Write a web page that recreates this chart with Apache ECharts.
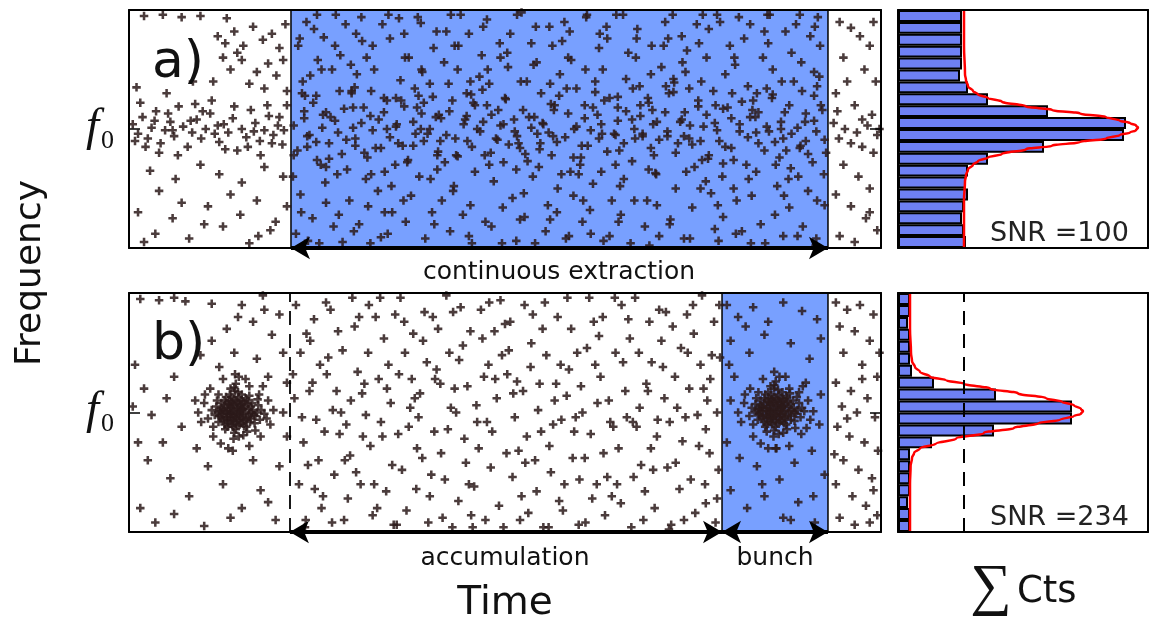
<!DOCTYPE html>
<html>
<head>
<meta charset="utf-8">
<script src="https://cdn.jsdelivr.net/npm/echarts@6/dist/echarts.min.js"></script>
<style>
  html, body { margin: 0; padding: 0; background: #fff; }
  #chart { width: 1165px; height: 622px; }
</style>
</head>
<body>
<div id="chart"></div>
<script>
// Time runs 0..1000 (arbitrary units), frequency 0..200 with f0 at 100.
const F0 = 100;
const extractStart = 215.4, extractEnd = 929.5;   // continuous extraction window
const accumStart = 214, bunchStart = 788.6, bunchEnd = 929.5;
const noiseLevel = 33;                              // per-bin background of panel a)

// ---- panel a): detected ions, [time, frequency] ----
const topLeftPts = [
  [20,195],[45,196],[70,194],[95,195],[130,193],
  [118,178],[140,182],[152,170],[165,186],[178,175],[190,180],[200,168],[208,188],[125,160],[135,150],[150,158],[170,148],[185,155],[196,145],[205,158],[112,140],[160,138],[180,134],[210,132],[128,172],[144,164],
  [5,104],[12,96],[18,110],[25,92],[30,101],[36,115],[42,88],[48,99],[55,106],[60,94],[66,119],[72,102],[78,85],[84,97],[90,108],[96,92],[102,100],[108,113],[114,96],[120,89],[126,104],[132,97],[138,109],[144,82],[150,100],[156,93],[162,116],[168,105],[174,90],[180,99],[186,111],[192,95],[198,103],[204,87],[210,120],[15,122],[40,80],[65,78],[88,121],[110,124],[140,119],[175,78],[200,110],[22,85],[52,113],[82,107],[118,103],[158,85],[190,88],[8,90],[34,107],[58,99],[98,115],[128,83],[166,98],[184,120],[206,99],
  [10,135],[50,130],[85,140],[28,65],[62,58],[95,70],[120,62],[150,55],[180,68],[205,60],[40,48],[135,45],[170,40],
  [12,30],[35,12],[58,25],[80,8],[105,35],[125,18],[148,28],[172,10],[195,22],[210,35],[20,5],[70,38],[160,4],[188,15],[100,20]
];
const topExtractPts = [
  [222,12],[228,45],[219,78],[231,140],[225,170],[236,190],[218,60],[233,115],
  [244,25],[240,95],[251,158],[246,184],[238,6],[255,70],[249,128],[241,145],
  [262,38],[270,150],[266,88],[259,177],[272,18],[268,110],[275,196],[261,55],
  [284,5],[290,66],[296,132],[281,162],[293,40],[288,188],[298,101],[283,79],
  [306,20],[312,118],[303,146],[315,58],[310,174],[301,92],[318,35],[309,194],
  [328,84],[335,9],[324,170],[339,126],[331,48],[326,150],[337,188],[322,62],
  [350,30],[356,104],[347,176],[361,141],[354,70],[344,12],[359,193],[349,52],
  [372,160],[378,86],[368,22],[383,118],[375,44],[366,180],[380,134],[371,74],
  [394,8],[401,58],[390,148],[405,168],[397,96],[388,189],[403,30],[392,122],
  [416,40],[422,182],[412,112],[427,14],[419,156],[410,66],[425,138],[414,90],
  [438,170],[444,28],[435,78],[449,130],[441,196],[432,52],[447,108],[437,150],
  [460,64],[466,144],[456,4],[471,186],[463,100],[454,36],[469,162],[458,122],
  [482,18],[488,92],[479,138],[493,172],[485,56],[476,192],[491,116],[481,80],
  [504,152],[510,42],[500,126],[515,6],[507,180],[498,72],[513,98],[503,164],
  [526,26],[532,110],[522,198],[537,60],[529,140],[520,84],[535,172],[525,46],
  [548,130],[554,14],[545,68],[559,186],[551,104],[542,156],[557,36],[547,88],
  [570,50],[576,174],[566,120],[581,8],[573,146],[564,94],[579,190],[569,30],
  [592,100],[598,62],[588,158],[603,22],[595,134],[586,182],[601,76],[591,44],
  [614,12],[620,140],[610,86],[625,168],[617,54],[608,194],[623,112],[613,32],
  [636,176],[642,40],[632,124],[647,70],[639,10],[630,150],[645,96],[635,186],
  [658,58],[664,164],[654,28],[669,108],[661,142],[652,82],[667,4],[657,196],
  [680,120],[686,18],[676,184],[691,66],[683,94],[674,160],[689,40],[679,136],
  [702,36],[708,152],[698,78],[713,190],[705,10],[696,116],[711,170],[701,62],
  [724,142],[730,88],[720,24],[735,178],[727,50],[718,130],[733,106],[723,196],
  [746,8],[752,68],[742,166],[757,124],[749,34],[740,148],[755,188],[745,92],
  [768,160],[774,46],[764,102],[779,16],[771,184],[762,74],[777,132],[767,56],
  [790,26],[796,118],[786,190],[801,84],[793,146],[784,6],[799,170],[789,60],
  [812,98],[818,176],[808,40],[823,136],[815,14],[806,154],[821,70],[811,194],
  [834,64],[840,20],[830,124],[845,182],[837,88],[828,44],[843,160],[833,110],
  [856,150],[862,52],[852,196],[867,100],[859,28],[850,172],[865,76],[855,126],
  [878,34],[884,140],[874,82],[889,10],[881,164],[872,114],[887,188],[877,58],
  [900,90],[906,178],[896,18],[911,128],[903,48],[894,156],[909,72],[899,106],
  [920,120],[925,36],[916,194],[927,80],[918,144],[914,8],[924,62],[919,170],
  [229,30],[234,128],[227,176],[237,85],[253,4],[258,112],[250,196],[256,150],
  [277,62],[280,132],[274,170],[279,28],[299,14],[295,154],[302,180],[298,118],
  [321,4],[317,76],[322,132],[316,160],[343,100],[340,30],[345,196],[339,114],
  [365,40],[362,124],[367,160],[364,86],[384,194],[388,100],[386,60],[389,150],
  [406,20],[410,78],[408,110],[409,182],[430,124],[428,196],[431,48],[433,170],
  [452,10],[450,90],[454,140],[452,180],[474,22],[476,120],[473,78],[477,150],
  [497,34],[494,160],[498,104],[496,4],[518,88],[520,24],[516,196],[521,140],
  [540,4],[538,154],[543,96],[541,186],[563,170],[560,24],[565,116],[562,78],
  [585,10],[582,134],[587,64],[584,160],[606,120],[604,40],[609,196],[607,150],
  [629,96],[626,180],[631,6],[628,64],[650,118],[648,196],[653,52],[651,22],
  [672,40],[670,134],[675,176],[673,92],[694,146],[692,2],[697,104],[695,170],
  [716,94],[714,136],[719,20],[717,176],[738,8],[736,156],[741,64],[739,114],
  [760,50],[758,172],[763,196],[761,140],[782,196],[780,120],[785,90],[783,36],
  [804,50],[802,130],[807,12],[805,160],[826,188],[824,58],[829,116],[827,4],
  [848,134],[846,4],[851,98],[849,196],[870,10],[868,140],[873,182],[871,44],
  [892,196],[890,60],[895,132],[893,86],[913,2],[911,148],[915,40],[912,186]
];
const topBandPts = [
  [219,103],[224,82],[233,109],[237,94],[245,122],[249,89],[257,101],[262,114],[266,75],[274,107],[278,97],[286,117],[289,91],[296,130],[301,86],[309,105],[313,80],[321,111],[324,99],[332,108],[335,84],[343,124],[347,93],[355,102],[358,88],[366,119],[370,72],[378,106],[381,96],[389,113],[392,90],[400,100],[404,127],[411,81],[415,109],[422,95],[426,115],[434,92],[437,77],[445,104],[449,111],[456,85],[460,120],[467,98],[471,106],[479,70],[482,112],[490,91],[494,103],[501,125],[505,87],[512,108],[516,94],[524,116],[527,79],[535,101],[539,110],[546,83],[550,105],[558,97],[561,121],[569,89],[572,128],[580,93],[584,113],[591,76],[595,102],[602,86],[606,109],[614,99],[617,118],[625,92],[628,104],[636,81],[639,126],[647,95],[650,107],[658,88],[661,115],[669,73],[672,100],[680,111],[683,96],[691,122],[694,84],[702,106],[705,91],[713,114],[716,98],[724,131],[727,80],[735,108],[738,94],[746,103],[749,87],[757,119],[760,90],[768,112],[771,78],[779,105],[782,99],[790,117],[793,85],[801,109],[804,74],[812,104],[815,123],[823,93],[826,110],[834,97],[837,114],[845,82],[848,102],[856,129],[859,89],[867,106],[870,92],[878,120],[881,96],[889,101],[892,84],[900,113],[903,79],[911,107],[914,98],[922,116],[925,91],
  [230,130],[262,68],[300,135],[340,64],[385,128],[420,72],[470,133],[515,66],[560,138],[600,70],[650,127],[700,63],[745,134],[790,71],[835,130],[880,67],[915,136],[250,74],[355,126],[455,129],[530,73],[620,131],[690,126],[770,75],[860,70],[400,138],[575,62],[725,139]
];
const topRightPts = [
  [945,190],[960,185],[972,178],[985,170],[950,160],[978,150],[993,140],[940,130],[965,120],[988,112],[937,105],[952,100],[968,97],[982,103],[995,95],[944,92],[960,88],[975,85],[990,80],[950,70],[970,60],[985,50],[940,45],[960,35],[980,25],[995,15],[945,10],[965,5],[955,140],[998,100],[975,108],[942,115],[990,190],[985,30]
];

// ---- panel b): detected ions, [time, frequency] ----
const botLeftPts = [
  [15,195],[40,194],[60,196],[75,193],[110,191],[150,190],[180,186],[200,182],[165,176],[130,170],[190,165],[205,150],[170,145],[140,150],[120,138],[185,130],[210,125],[160,122],[20,120],[50,112],[5,105],[30,98],[8,140],[45,75],[70,88],[90,70],[25,60],[55,45],[80,30],[105,55],[125,40],[150,20],[175,35],[200,55],[210,80],[195,10],[165,60],[15,20],[35,8],[60,15],[100,5],[135,12],[185,25],[205,100],[88,110],[12,75],[110,160],[145,180],[178,198],[60,130],[95,148]
];
const botLeftCloud = [
  [141,100],[136,104],[147,97],[130,99],[152,103],[139,93],[144,108],[125,102],[158,96],[133,110],[149,91],[120,97],[162,105],[138,88],[146,113],[128,106],[155,100],[131,94],[150,107],[143,95],[135,99],[148,102],[126,95],[160,99],[140,111],[137,90],[153,93],[122,104],[165,102],[142,86],[134,115],[157,110],[118,100],[168,97],[145,104],[132,102],[151,98],[139,106],[127,90],[161,92],[144,99],[136,96],[149,110],[123,108],[156,88],[141,118],[129,113],[164,108],[119,92],[170,100],[138,101],[146,94],[133,107],[154,105],[124,99],[159,103],[142,92],[131,88],[150,115],[116,105],[172,106],[140,83],[145,117],[127,110],[162,95],[135,93],[148,99],[137,109],[153,89],[121,101],[166,98],[143,103],[130,96],[155,112],[114,98],[174,94],[139,97],[147,106],[132,91],[158,107],[126,103],[163,100],[141,96],[134,101],[151,95],[136,113],[144,89],[117,110],[171,111],[128,86],[157,84],[140,121],[146,80],[110,102],[176,102],[149,104],[133,97],[152,109],[125,93],[160,114],[138,107],[143,110],[129,101],[156,94],[122,96],[167,91],[135,105],[150,102],[131,108],[147,90],[105,95],[180,99],[139,78],[142,124],[112,88],[173,115],[119,115],[168,85],[135,120],[152,81],
  [100,108],[96,92],[185,110],[188,90],[141,132],[138,68],[108,120],[175,80],[112,80],[178,122],[92,100],[192,102],[125,128],[160,72],[155,128],[122,74],[101,115],[183,95],[146,130],[132,70]
];
const botAccumPts = [
  [222,190],[228,150],[220,112],[232,75],[226,40],[235,10],[218,132],[230,96],
  [246,178],[252,60],[244,125],[256,20],[249,94],[241,160],[254,140],[247,36],
  [270,8],[276,118],[268,186],[280,82],[273,48],[265,146],[278,168],[271,102],
  [294,64],[300,172],[291,28],[304,134],[297,196],[289,90],[302,50],[295,110],
  [318,150],[324,14],[315,98],[328,180],[321,72],[313,124],[326,40],[319,190],
  [342,34],[348,108],[339,162],[352,6],[345,140],[337,80],[350,56],[343,120],
  [366,176],[372,88],[363,52],[376,128],[369,18],[361,196],[374,104],[367,150],
  [390,62],[396,142],[387,116],[400,30],[393,184],[385,96],[398,8],[391,160],
  [414,124],[420,44],[411,170],[424,86],[417,12],[409,136],[422,198],[415,66],
  [438,26],[444,156],[435,100],[448,58],[441,188],[433,120],[446,78],[439,144],
  [462,106],[468,186],[459,38],[472,130],[465,70],[457,4],[470,162],[463,92],
  [486,168],[492,22],[483,84],[496,148],[489,112],[481,54],[494,194],[487,128],
  [510,46],[516,126],[507,176],[520,10],[513,96],[505,152],[518,68],[511,116],
  [534,138],[540,60],[531,16],[544,102],[537,182],[529,80],[542,34],[535,158],
  [558,4],[564,90],[555,148],[568,124],[561,50],[553,192],[566,110],[559,72],
  [582,114],[588,170],[579,40],[592,84],[585,136],[577,18],[590,62],[583,196],
  [606,62],[612,196],[603,100],[616,28],[609,154],[601,122],[614,82],[607,8],
  [630,180],[636,46],[627,130],[640,92],[633,14],[625,164],[638,110],[631,66],
  [654,24],[660,118],[651,70],[664,178],[657,142],[649,40],[662,96],[655,190],
  [678,150],[684,10],[675,88],[688,124],[681,56],[673,196],[686,34],[679,104],
  [702,80],[708,160],[699,20],[712,112],[705,186],[697,52],[710,138],[703,94],
  [726,130],[732,36],[723,172],[736,76],[729,104],[721,6],[734,154],[727,58],
  [750,190],[756,98],[747,44],[760,140],[753,16],[745,120],[758,72],[751,166],
  [772,66],[778,176],[769,110],[782,28],[775,148],[767,86],[780,8],[773,128],
  [236,166],[238,56],[240,118],[234,4],[260,84],[262,192],[258,30],[263,132],
  [284,152],[286,10],[282,100],[287,60],[308,40],[310,116],[306,180],[311,80],
  [332,128],[334,196],[330,20],[335,92],[356,6],[358,82],[354,182],[359,132],
  [380,112],[382,36],[378,166],[383,70],[404,180],[406,84],[402,48],[407,128],
  [428,104],[430,4],[426,150],[431,184],[452,40],[454,168],[450,122],[455,14],
  [476,92],[478,140],[474,10],[479,192],[500,174],[502,66],[498,4],[503,132],
  [524,118],[526,190],[522,30],[527,58],[548,84],[550,170],[546,124],[551,4],
  [572,26],[574,140],[570,180],[575,94],[596,150],[598,6],[594,96],[599,44],
  [620,140],[622,40],[618,176],[623,108],[644,88],[646,196],[642,30],[647,150],
  [668,4],[670,92],[666,162],[671,46],[692,176],[694,70],[690,118],[695,142],
  [716,54],[718,2],[714,184],[719,92],[740,96],[742,182],[738,10],[743,150],
  [764,120],[766,40],[762,198],[767,24],[786,146],[784,52],[782,100],[785,190]
];
const botBunchPts = [
  [795,190],[810,180],[830,188],[850,176],[870,192],[895,185],[915,178],[800,160],[825,150],[845,165],[880,158],[905,145],[920,162],[805,130],[900,125],[920,115],[795,75],[812,62],[835,55],[860,70],[885,58],[908,68],[925,48],[800,35],[822,20],[845,30],[870,12],[890,25],[912,8],[800,110],[918,90],[842,40],[865,44],[880,10],[910,30],[798,140],[820,172]
];
const botBunchCloud = [
  [859,102],[853,106],[866,99],[848,101],[871,105],[856,95],[863,110],[842,104],[876,98],[851,112],[868,93],[838,99],[880,107],[855,90],[864,115],[845,108],[873,102],[849,96],[869,109],[861,97],[852,101],[867,104],[843,97],[878,101],[858,113],[854,92],[872,95],[839,106],[884,104],[860,88],[850,117],[875,112],[835,102],[887,99],[862,106],[849,104],[870,100],[857,108],[844,92],[880,94],[863,101],[854,98],[867,112],[840,110],[874,90],[858,120],[846,115],[883,110],[836,94],[889,102],[856,103],[865,96],[851,109],[872,107],[841,101],[877,105],[860,94],[848,90],[869,117],[833,107],[891,108],[858,85],[863,119],[845,112],[880,97],[853,95],[866,101],[855,111],[871,91],[838,103],[885,100],[861,105],[847,98],[874,114],[832,100],[893,96],[857,99],[864,108],[850,93],[876,109],[843,105],[881,102],[859,98],[852,103],[868,97],[854,115],[862,91],[834,112],[888,113],[846,88],[875,86],[858,123],[864,82],[828,104],[895,104],[867,106],[851,99],[870,111],[842,95],[879,116],[856,109],[861,112],[847,103],[873,96],[839,98],[885,93],[853,107],[868,104],[849,110],[865,92],[825,97],[898,101],[857,80],[860,126],[830,90],[891,117],[837,117],[886,87],[853,122],[870,83],[848,84],[878,120],
  [818,108],[814,92],[903,110],[906,94],[858,134],[861,70],[826,120],[894,82],[830,80],[896,122],[810,100],[910,101],[843,128],[878,72],[873,130],[840,74],[819,115],[901,87],[865,130],[850,70]
];
const botRightPts = [
  [940,192],[955,186],[972,190],[990,182],[945,172],[965,168],[985,160],[950,150],[975,140],[995,130],[940,125],[960,118],[982,112],[948,105],[968,100],[992,96],[942,88],[958,80],[978,75],[996,68],[950,60],[970,52],[988,45],[940,40],[962,30],[980,22],[995,14],[945,12],[965,6],[985,8],[955,95],[975,128],[998,150],[938,65],[990,35]
];

// ---- summed counts per frequency bin (bin 0 = lowest frequency) ----
const binCenters = ['5','15','25','35','45','55','65','75','85','95','105','115','125','135','145','155','165','175','185','195'];
const countsTop = [34,33,32,33,35,34,35,45,73,113,114,75,45,35,31,32,32,32,32,32];
const countsBot = [6,6,5,6,6,6,6,17,48,87,87,49,18,7,6,6,6,5,6,6];

// fitted line profiles, [counts, frequency]
const fitTop = [[33,0],[33,40],[33.5,56],[34,61],[35,66],[37.5,70],[40,73],[45,76],[52,79],[64,83],[77,86],[91,89],[104,92],[111,95],[116,97],[119,99],[120,101],[119,103],[116,105],[111,107],[104,110],[91,113],[77,116],[64,119],[52,123],[45,126],[40,129],[37.5,132],[35,136],[34,141],[33.5,146],[33,170],[33,200]];
const fitBot = [[6,0],[6,40],[6.3,55],[7,62],[8,66],[11,70],[19,74],[29,78],[43,83],[58,87],[70,91],[81,94],[88,97],[91.5,99],[92.5,101],[91.5,103],[88,106],[82,109],[74,112],[60,116],[46,120],[33,124],[24,127],[16,130],[11,134],[8.5,138],[7,143],[6.5,150],[6,170],[6,200]];

const snrTop = 'SNR =100';
const snrBot = 'SNR =234';

// ---------------------------------------------------------------
const REGION_BLUE = '#78a0ff';
const BAR_BLUE = '#6e80f4';
const INK = '#2b1a1a';
const PLUS = 'path://M-1.2,-4H1.2V-1.2H4V1.2H1.2V4H-1.2V1.2H-4V-1.2H-1.2Z';

const grids = [
  { left: 129, top: 10,  width: 752, height: 238 },
  { left: 898, top: 10,  width: 250, height: 238 },
  { left: 129, top: 293, width: 752, height: 239 },
  { left: 898, top: 293, width: 250, height: 239 }
];

const frameLine = { show: true, onZero: false, lineStyle: { color: '#000', width: 2 } };
function frameAxis(gridIndex, position, extra) {
  return Object.assign({
    type: 'value', gridIndex, position, z: 10,
    axisLine: frameLine, axisTick: { show: false },
    axisLabel: { show: false }, splitLine: { show: false }
  }, extra || {});
}
const f0Tick = { show: true, inside: true, length: 11, lineStyle: { color: '#000', width: 1.5 } };
const f0Label = {
  show: true, margin: 15,
  formatter: v => (v === F0 ? '{f|f}{s|0}' : ''),
  rich: {
    f: { fontFamily: 'Liberation Serif', fontStyle: 'italic', fontSize: 47, lineHeight: 50, verticalAlign: 'bottom', padding: [0, 2, 3, 0], color: '#111' },
    s: { fontFamily: 'Liberation Serif', fontSize: 26, lineHeight: 50, verticalAlign: 'bottom', color: '#111' }
  }
};
const freqRange = { min: 0, max: 200, interval: 100 };

const xAxis = [
  frameAxis(0, 'bottom', { min: 0, max: 1000 }), frameAxis(0, 'top', { min: 0, max: 1000 }),
  frameAxis(1, 'bottom', { min: 0, max: 125 }),  frameAxis(1, 'top', { min: 0, max: 125 }),
  frameAxis(2, 'bottom', { min: 0, max: 1000 }), frameAxis(2, 'top', { min: 0, max: 1000 }),
  frameAxis(3, 'bottom', { min: 0, max: 125 }),  frameAxis(3, 'top', { min: 0, max: 125 })
];
const yAxis = [
  frameAxis(0, 'left',  Object.assign({ axisTick: f0Tick, axisLabel: f0Label }, freqRange)),
  frameAxis(0, 'right', Object.assign({ axisTick: f0Tick }, freqRange)),
  frameAxis(1, 'left',  { type: 'category', data: binCenters, boundaryGap: true }),
  frameAxis(1, 'right', { min: 0, max: 200 }),
  frameAxis(2, 'left',  Object.assign({ axisTick: f0Tick, axisLabel: f0Label }, freqRange)),
  frameAxis(2, 'right', Object.assign({ axisTick: f0Tick }, freqRange)),
  frameAxis(3, 'left',  { type: 'category', data: binCenters, boundaryGap: true }),
  frameAxis(3, 'right', { min: 0, max: 200 })
];

const topPoints = [].concat(topLeftPts, topExtractPts, topBandPts, topRightPts);
const botPoints = [].concat(botLeftPts, botLeftCloud, botAccumPts, botBunchPts, botBunchCloud, botRightPts);

function pointsSeries(xi, yi, data) {
  return {
    type: 'scatter', xAxisIndex: xi, yAxisIndex: yi, z: 3, silent: true,
    symbol: PLUS, symbolSize: 8.5, data,
    itemStyle: { color: INK, opacity: 0.85 }
  };
}
function regionSeries(xi, yi, from, to) {
  return {
    type: 'scatter', xAxisIndex: xi, yAxisIndex: yi, z: 1, silent: true, data: [],
    markArea: {
      silent: true, label: { show: false },
      itemStyle: { color: REGION_BLUE, opacity: 1, borderColor: '#000', borderWidth: 1.5 },
      data: [[{ xAxis: from }, { xAxis: to }]]
    }
  };
}
function arrowSeries(xi, yi, spans) {
  return {
    type: 'scatter', xAxisIndex: xi, yAxisIndex: yi, z: 6, silent: true, data: [], clip: false,
    markLine: {
      silent: true, animation: false,
      symbol: ['arrow', 'arrow'], symbolSize: [17, 19],
      label: { show: false },
      lineStyle: { color: '#000', width: 4, type: 'solid' },
      data: spans.map(s => [{ coord: [s[0], 0] }, { coord: [s[1], 0] }])
    }
  };
}
function histSeries(xi, yi, data) {
  return {
    type: 'bar', xAxisIndex: xi, yAxisIndex: yi, z: 2, silent: true,
    barWidth: '100%', barCategoryGap: '0%', data,
    itemStyle: { color: BAR_BLUE, borderColor: '#000', borderWidth: 2 }
  };
}
function fitSeries(xi, yi, data, extra) {
  return Object.assign({
    type: 'line', xAxisIndex: xi, yAxisIndex: yi, z: 4, silent: true,
    data, showSymbol: false, symbol: 'none', smooth: 0.4, smoothMonotone: 'y',
    lineStyle: { color: '#ff0000', width: 2.5 }
  }, extra || {});
}

const series = [
  regionSeries(0, 0, extractStart, extractEnd),
  pointsSeries(0, 0, topPoints),
  arrowSeries(0, 0, [[extractStart, extractEnd]]),
  histSeries(2, 2, countsTop),
  fitSeries(2, 3, fitTop),

  regionSeries(4, 4, bunchStart, bunchEnd),
  pointsSeries(4, 4, botPoints),
  {
    type: 'scatter', xAxisIndex: 4, yAxisIndex: 4, z: 5, silent: true, data: [],
    markLine: {
      silent: true, symbol: 'none', label: { show: false },
      lineStyle: { color: '#000', width: 1.8, type: [14, 9] },
      data: [{ xAxis: accumStart }]
    }
  },
  arrowSeries(4, 4, [[accumStart, bunchStart], [bunchStart, bunchEnd]]),
  histSeries(6, 6, countsBot),
  fitSeries(6, 7, fitBot, {
    markLine: {
      silent: true, symbol: 'none', label: { show: false },
      lineStyle: { color: '#000', width: 2, type: [14, 9] },
      data: [{ xAxis: noiseLevel }]
    }
  })
];

const sans = 'DejaVu Sans';
function txt(text, x, y, size, opts) {
  const o = opts || {};
  return {
    type: 'text', x, y, z: 20, silent: true, rotation: o.rotation || 0,
    style: {
      text, fontFamily: o.family || sans, fontSize: size, fill: o.fill || '#111',
      align: o.align || 'center', verticalAlign: 'middle'
    }
  };
}
const graphic = [
  txt('a)', 152, 63, 52, { align: 'left' }),
  txt('b)', 152, 345, 52, { align: 'left' }),
  txt('continuous extraction', 559, 272, 25),
  txt('accumulation', 505, 558, 25),
  txt('bunch', 775, 558, 25),
  txt('Time', 505, 604, 39),
  txt('Frequency', 31, 273, 36, { rotation: Math.PI / 2 }),
  txt('∑', 991, 589, 58, { family: 'Liberation Serif' }),
  txt('Cts', 1017, 592, 37, { align: 'left' }),
  txt(snrTop, 990, 234, 27, { align: 'left', fill: '#222' }),
  txt(snrBot, 990, 518, 27, { align: 'left', fill: '#222' })
];

const chart = echarts.init(document.getElementById('chart'), null, { renderer: 'canvas' });
chart.setOption({
  animation: false,
  backgroundColor: '#fff',
  grid: grids,
  xAxis, yAxis, series, graphic
});
</script>
</body>
</html>
